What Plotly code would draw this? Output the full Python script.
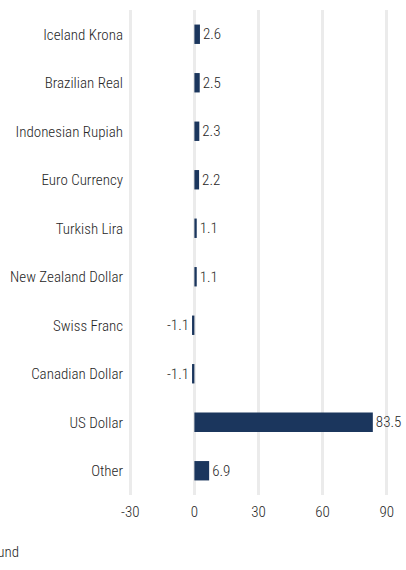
import plotly.graph_objects as go

categories = ["Iceland Krona", "Brazilian Real", "Indonesian Rupiah", "Euro Currency",
              "Turkish Lira", "New Zealand Dollar", "Swiss Franc", "Canadian Dollar",
              "US Dollar", "Other"]
values = [2.6, 2.5, 2.3, 2.2, 1.1, 1.1, -1.1, -1.1, 83.5, 6.9]
tick_vals = [-30, 0, 30, 60, 90]
tick_text = ["-30", "0", "30", "60", "90"]

FONT = "Roboto Condensed, Liberation Sans Narrow, DejaVu Sans Condensed, sans-serif"
BAR = "#1b365d"
TXT = "#262626"
FS = 15
W = 300

fig = go.Figure(go.Bar(
    x=values, y=categories, orientation="h",
    marker=dict(color=BAR, line=dict(width=0)),
    text=[f"{v:.1f}" for v in values], textposition="outside",
    textfont=dict(family=FONT, size=FS, color=TXT, weight=W),
    cliponaxis=False,
))

fig.update_layout(
    width=406, height=570,
    margin=dict(l=129, r=18, t=10, b=75),
    paper_bgcolor="white", plot_bgcolor="white",
    bargap=0.6,
    showlegend=False,
    font=dict(family=FONT, size=FS, color=TXT, weight=W),
    xaxis=dict(range=[-30.6, 90.6], tickvals=tick_vals, ticktext=tick_text, showgrid=True,
               gridcolor="#ebebeb", gridwidth=3, zeroline=False, automargin=False,
               ticks="", ticklabelstandoff=6,
               tickfont=dict(family=FONT, size=FS, color=TXT, weight=W)),
    yaxis=dict(autorange="reversed", showgrid=False, zeroline=False, automargin=False,
               ticks="", ticklabelstandoff=5,
               tickfont=dict(family=FONT, size=FS, color=TXT, weight=W)),
    annotations=[dict(text="Fund", xref="paper", yref="paper",
                      x=(21 - 129) / 259, y=(495 - 552) / 485, xanchor="right", yanchor="middle",
                      showarrow=False, font=dict(family=FONT, size=FS, color=TXT, weight=W))],
)

fig.write_html("out.html")
